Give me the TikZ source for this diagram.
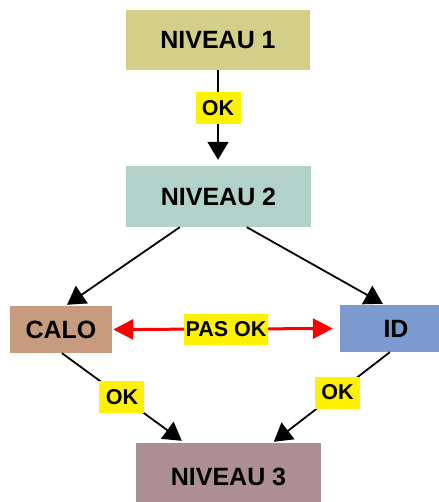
\documentclass[tikz,border=0pt]{standalone}
\usepackage{fontspec}
\setmainfont{Liberation Sans}
\usetikzlibrary{arrows.meta,calc}
\definecolor{cNa}{RGB}{211,207,137}
\definecolor{cNb}{RGB}{178,209,200}
\definecolor{cCalo}{RGB}{199,155,126}
\definecolor{cId}{RGB}{124,154,207}
\definecolor{cNc}{RGB}{173,142,147}
\begin{document}
\begin{tikzpicture}[x=1pt,y=-1pt,
  box/.style={rectangle, inner sep=0pt, font=\fontsize{25}{28}\selectfont\bfseries},
  lab/.style={fill=yellow, text=black, inner sep=0pt, minimum width=45pt, minimum height=32pt, font=\fontsize{21.5}{24}\selectfont\bfseries},
  conn/.style={black, line width=1.8pt, -{Triangle[width=21pt,length=18pt]}},
  redconn/.style={red, line width=3pt, {Triangle[width=20pt,length=20pt]}-{Triangle[width=20pt,length=20pt]}}]
\useasboundingbox (0,0) rectangle (438,502);
\node[box, fill=cNa, minimum width=184pt, minimum height=60pt] (n1) at (218,40) {NIVEAU 1};
\node[box, fill=cNb, minimum width=185pt, minimum height=61pt] (n2) at (218.5,196.5) {NIVEAU 2};
\node[box, fill=cCalo, minimum width=102pt, minimum height=47pt] (calo) at (61,329.5) {CALO};
\node[box, fill=cId, minimum width=112pt, minimum height=47pt] (id) at (396,328.5) {ID};
\node[box, fill=cNc, minimum width=185pt, minimum height=67pt] (n3) at (228.5,476.5) {NIVEAU 3};
\draw[conn, shorten >=6pt] (n1.south) -- (n1.south |- n2.north) node[lab, pos=0.4] {OK};
\draw[conn] ($(n2.south west)+(54,0)$) -- ($(calo.north)+(6,-1)$);
\draw[conn] ($(n2.south west)+(121,0)$) -- ($(id.north west)+(43,-1)$);
\draw[conn] ($(calo.south)+(1,0)$) -- ($(n3.north west)+(46,-2)$) node[lab, pos=0.5] {OK};
\draw[conn] ($(id.south west)+(50,0)$) -- ($(n3.north west)+(138,-1)$) node[lab, pos=0.45] {OK};
\draw[redconn, shorten <=1pt, shorten >=7pt] (calo.east) -- (id.west) node[lab, pos=0.5, minimum width=84pt, minimum height=31pt] {PAS OK};
\end{tikzpicture}
\end{document}
